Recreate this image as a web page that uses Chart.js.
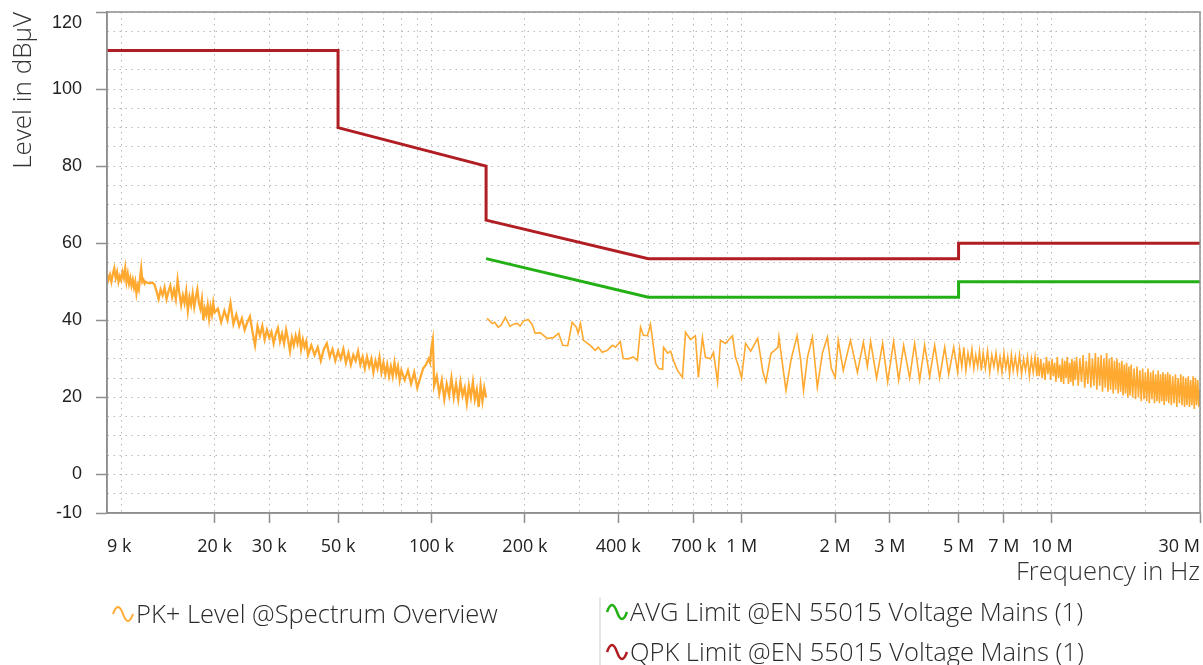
<!DOCTYPE html>
<html>
<head>
<meta charset="utf-8">
<title>EN 55015 Voltage Mains</title>
<script src="https://cdn.jsdelivr.net/npm/chart.js@4.4.0/dist/chart.umd.min.js"></script>
<style>
    html, body { margin: 0; padding: 0; background: #fff; }
    #wrap { position: relative; width: 1203px; height: 665px; overflow: hidden; }
    #emcChart { position: absolute; left: 0; top: 0; }
    .legend-item {
        position: absolute;
        display: flex;
        align-items: center;
        height: 30px;
        font-family: "Open Sans", "Noto Sans", sans-serif;
        font-weight: 300;
        font-size: 25.5px;
        color: #2b2b2b;
        white-space: nowrap;
    }
    .legend-item svg { margin-right: 1px; }
    .legend-sep { position: absolute; left: 599px; top: 597px; width: 2px; height: 68px; background: #e6e6e6; }
</style>
</head>
<body>
<div id="wrap">
    <canvas id="emcChart" width="1203" height="665"></canvas>
    <div class="legend-item" style="left:111px; top:598px;">
        <svg width="24" height="22" viewBox="0 0 24 22"><path d="M2 12 Q7 -2 12 12 T22 12" fill="none" stroke="#ffa930" stroke-width="2"/></svg>PK+ Level @Spectrum Overview
    </div>
    <div class="legend-sep"></div>
    <div class="legend-item" style="left:605px; top:596px;">
        <svg width="24" height="22" viewBox="0 0 24 22"><path d="M2 12 Q7 -2 12 12 T22 12" fill="none" stroke="#22b014" stroke-width="2.5"/></svg>AVG Limit @EN 55015 Voltage Mains (1)
    </div>
    <div class="legend-item" style="left:605px; top:636px;">
        <svg width="24" height="22" viewBox="0 0 24 22"><path d="M2 12 Q7 -2 12 12 T22 12" fill="none" stroke="#b01e23" stroke-width="2.5"/></svg>QPK Limit @EN 55015 Voltage Mains (1)
    </div>
</div>
<script>
// PK+ trace, band A (9 kHz - 150 kHz), frequencies in kHz
const pkFreqBandA = [
    9.0, 9.1, 9.2, 9.3, 9.4, 9.5, 9.6, 9.7, 9.8, 9.9, 10.0, 10.1, 10.2, 10.3, 10.4, 10.5, 10.6, 10.7, 10.8, 10.9, 11.0, 11.1, 11.2, 11.3, 11.4, 11.5, 11.6, 11.7, 11.8, 11.9, 12.0,
    12.2, 12.4, 12.6, 12.8, 13.0, 13.2, 13.4, 13.6, 13.8, 14.0, 14.2, 14.4, 14.6, 14.8, 15.0, 15.2, 15.4, 15.6, 15.8, 16.0,
    16.2, 16.4, 16.6, 16.8, 17.0, 17.2, 17.4, 17.6, 17.8, 18.0, 18.2, 18.4, 18.6, 18.8, 19.0, 19.2, 19.4, 19.6, 19.8, 20.0,
    20.5, 21, 21.5, 22, 22.5, 23, 23.5, 24, 24.5, 25, 25.5, 26, 26.5, 27, 27.5, 28, 28.5, 29, 29.5, 30,
    30.5, 31, 31.5, 32, 32.5, 33, 33.5, 34, 34.5, 35, 35.5, 36, 36.5, 37, 37.5, 38, 38.5, 39, 39.5, 40,
    41, 42, 43, 44, 45, 46, 47, 48, 49, 50, 51, 52, 53, 54, 55, 56, 57, 58, 59, 60,
    61, 62, 63, 64, 65, 66, 67, 68, 69, 70, 71, 72, 73, 74, 75, 76, 77, 78, 79, 80,
    82, 84, 86, 88, 90, 92, 94, 96, 98, 99, 100, 101, 101.5, 102,
    104, 106, 108, 110, 112, 114, 116, 118, 120, 122, 124, 126, 128, 130, 132, 134, 136, 138, 140, 142, 144, 146, 148, 150
];
const pkLevelBandA = [
    52, 50.5, 51.8, 50, 52, 53.5, 51, 52.5, 50, 51.5, 50.5, 52.5, 51, 53.5, 50, 52, 49.5, 51, 49, 50.5, 48.5, 50, 47, 49, 48, 51, 53.5, 50, 50.5, 49.5, 50,
    49.7, 49.6, 49.8, 49.3, 47.5, 45.5, 48, 46.5, 48.5, 45.5, 47.5, 49, 46, 48, 45.5, 50.5, 47, 44, 46.5, 44.5,
    47.5, 42.5, 46, 44, 47, 43.5, 46, 48, 44.5, 43, 45.5, 40, 43, 41.5, 44, 40.5, 43.5, 41.5, 44.5, 42,
    43, 39.5, 42.5, 40, 44.5, 39, 41.5, 38.5, 40.5, 37.5, 39.5, 41, 37, 33.5, 38.5, 36, 38.5, 35, 37.5, 35.5,
    37, 34, 36.5, 38, 34.5, 36.5, 34, 37.5, 35, 32, 35.5, 33.5, 36, 34, 36.5, 32.5, 35, 33, 34.5, 31,
    33.5, 31, 33, 29.5, 32.5, 34, 30.5, 32.5, 29.5, 32, 30, 32.5, 29, 31.5, 28.5, 31, 29.5, 32, 28.5, 30.5,
    27.5, 30.5, 28, 30, 26.5, 29.5, 27.5, 30.5, 26.5, 29, 26, 28.5, 25.5, 28, 25.5, 29, 26, 28, 24.5, 27,
    24.5, 27, 23.5, 26.5, 22.5, 25, 27.5, 28.5, 30, 29, 33, 35, 30, 23,
    25.5, 21, 24.5, 19.5, 23.5, 20.5, 25, 20, 23.5, 19.5, 24, 20.5, 22.5, 18.5, 23, 20, 24, 19.5, 22, 17.5, 23, 19, 22.5, 20
];

// PK+ trace, band B (150 kHz - 30 MHz), frequencies in kHz
const pkFreqBandB = [
    151, 157, 160, 164, 168, 173, 179, 184, 189, 193, 198, 205, 211, 216, 224, 236, 247, 257, 265, 275,
    284, 293, 297, 302, 309, 325, 337, 345, 355, 369, 383, 392, 406, 415, 431, 447, 461, 472, 482, 497,
    508, 516, 528, 540, 556, 560, 577, 590, 603, 621, 644, 659, 684, 709, 725, 747, 764, 793, 811, 836,
    854, 886, 934, 955, 977, 999,
    1029, 1069, 1126, 1171, 1197, 1243, 1309, 1318, 1389, 1442, 1508, 1548, 1582, 1630, 1690, 1753, 1820, 1888, 1945, 2002,
    2047, 2125, 2241, 2360, 2467, 2541,
    2603, 2722, 2846, 2954, 3088, 3205, 3326, 3478, 3609, 3746, 3887, 4034, 4187, 4345, 4511, 4647, 4823, 4968,
    5040, 5120, 5200, 5280, 5360, 5440, 5520, 5600, 5680, 5760, 5840, 5920,
    6000, 6100, 6200, 6300, 6400, 6500, 6600, 6700, 6800, 6900, 7000, 7100, 7200, 7300, 7400, 7500,
    7620, 7740, 7860, 7980, 8100, 8220, 8340, 8460, 8580, 8700, 8820, 8940,
    9000, 9100, 9200, 9300, 9400, 9500, 9600, 9700, 9800, 9900, 10000, 10100, 10200, 10300, 10400, 10500,
    10600, 10700, 10800, 10900, 11000, 11100, 11200, 11300, 11400, 11500, 11600, 11700, 11800, 11900, 12000,
    12150, 12300, 12450, 12600, 12750, 12900, 13050, 13200, 13350, 13500, 13650, 13800, 13950, 14100, 14250, 14400, 14550, 14700, 14850, 15000,
    15150, 15300, 15450, 15600, 15750, 15900, 16050, 16200, 16350, 16500, 16650, 16800, 16950, 17100, 17250, 17400, 17550, 17700, 17850,
    18000, 18200, 18400, 18600, 18800, 19000, 19200, 19400, 19600, 19800, 20000, 20200, 20400, 20600, 20800,
    21000, 21200, 21400, 21600, 21800, 22000, 22200, 22400, 22600, 22800, 23000, 23200, 23400, 23600, 23800,
    24000, 24250, 24500, 24750, 25000, 25250, 25500, 25750, 26000, 26250, 26500, 26750, 27000,
    27250, 27500, 27750, 28000, 28250, 28500, 28750, 29000, 29250, 29500, 29750, 30000
];
const pkLevelBandB = [
    40.5, 39.2, 39.5, 38.2, 38.8, 40.8, 38.4, 39, 39.2, 38.5, 39.8, 40.2, 39, 36.6, 36.8, 35.3, 35.5, 36.6, 33.5, 33.4,
    39.5, 38.2, 36.6, 39.2, 34.8, 33.5, 32.2, 33, 31.7, 32.2, 33.5, 33, 34.5, 30.1, 30, 30.5, 29.6, 38.2, 36.1, 36,
    39, 35, 28.8, 27.5, 27.3, 33, 31.5, 32, 29.5, 27, 25.2, 36.9, 35, 36, 25.2, 35.5, 30.4, 30, 31.7, 24,
    34.8, 34, 36, 30.4, 28, 25,
    34, 32, 35.3, 26.5, 24, 31.4, 33, 35.6, 21.8, 29.8, 36, 29.8, 21.8, 30.5, 35.6, 22.6, 31.5, 35.6, 27.5, 25.2,
    34.8, 27, 34.8, 26.5, 34.3, 28,
    34.5, 25, 34, 24, 34.5, 24.5, 33.5, 25, 34, 24.5, 33.5, 25.5, 33.5, 25, 33, 26, 33, 26.5,
    32.5, 28, 33, 27, 31.5, 28.5, 32.5, 27.5, 31, 28, 32, 27,
    31.5, 27.5, 32, 26.5, 31, 28, 31.5, 27, 30.5, 26.5, 31.5, 27.5, 30.5, 26, 31, 27,
    30.5, 26.5, 31, 26, 30, 27, 30.5, 25.5, 30, 26.5, 30.5, 25.5,
    30.5, 25.5, 30, 25, 29, 24.5, 30.5, 26, 29.5, 24.5, 30, 25.5, 29, 24, 30.5, 25,
    28.5, 24, 30, 23.5, 29.5, 25, 30.5, 23.5, 29, 24, 30, 23, 29.5, 24.5, 30.5,
    23, 30, 24, 31, 22.5, 29.5, 23.5, 31.5, 22.5, 30, 23, 31.5, 22, 30.5, 23, 31, 21.5, 30, 22.5, 31.5,
    21.5, 30, 22, 30.5, 21, 29.5, 22, 30, 21, 29, 21.5, 29.5, 20.5, 28.5, 21, 29, 20, 28, 20.5,
    28.5, 20, 27.5, 19.5, 28, 20, 27, 19, 27.5, 19.5, 26.5, 19, 27.5, 18.5, 26.5,
    19.5, 27, 18.5, 26, 19, 27, 18.5, 26, 19, 26.5, 18, 26, 19, 26.5, 18.5,
    26, 18, 25.5, 18.5, 26, 17.5, 25, 18.5, 26, 18, 25.5, 17.5, 25,
    18, 25.5, 17.5, 24.5, 18, 25.5, 17, 25, 18, 24.5, 17.5, 22
];

// EN 55015 limit lines, frequencies in kHz
const qpkFreqKHz = [9, 50, 50, 150, 150, 500, 5000, 5000, 30000];
const qpkLevel = [110, 110, 90, 80, 66, 56, 56, 60, 60];
const avgFreqKHz = [150, 500, 5000, 5000, 30000];
const avgLevel = [56, 46, 46, 50, 50];

// axes
const xGridFreqs = [
    9000, 10000, 20000, 30000, 40000, 50000, 60000, 70000, 80000, 90000,
    100000, 200000, 300000, 400000, 500000, 600000, 700000, 800000, 900000,
    1000000, 2000000, 3000000, 4000000, 5000000, 6000000, 7000000, 8000000, 9000000,
    10000000, 20000000, 30000000
];
const xLabelFreqs = [9000, 20000, 30000, 50000, 100000, 200000, 400000, 700000, 1000000, 2000000, 3000000, 5000000, 7000000, 10000000, 30000000];
const xLabelText = ["9 k", "20 k", "30 k", "50 k", "100 k", "200 k", "400 k", "700 k", "1 M", "2 M", "3 M", "5 M", "7 M", "10 M", "30 M"];
const yGridValues = [-10, -5, 0, 5, 10, 15, 20, 25, 30, 35, 40, 45, 50, 55, 60, 65, 70, 75, 80, 85, 90, 95, 100, 105, 110, 115, 120];
const yLabelValues = [-10, 0, 20, 40, 60, 80, 100, 120];

function toPoints(freqsKHz, levels) {
    return freqsKHz.map(function (f, i) {
        return { x: f * 1000, y: levels[i] };
    });
}

// two measurement bands, split by a null point so the line breaks at 150 kHz
const pkPoints = toPoints(pkFreqBandA, pkLevelBandA)
    .concat([{ x: 150300, y: null }])
    .concat(toPoints(pkFreqBandB, pkLevelBandB));

const plotFrame = {
    id: "plotFrame",
    afterDraw: function (chart) {
        const ctx = chart.ctx;
        const a = chart.chartArea;
        ctx.save();
        ctx.strokeStyle = "#8f8f8f";
        ctx.lineWidth = 1.5;
        ctx.strokeRect(a.left, a.top, a.right - a.left, a.bottom - a.top);
        ctx.restore();
    }
};

new Chart(document.getElementById("emcChart"), {
    type: "line",
    data: {
        datasets: [
            {
                label: "PK+ Level @Spectrum Overview",
                data: pkPoints,
                borderColor: "#ffa930",
                borderWidth: 1.6,
                pointRadius: 0,
                tension: 0,
                spanGaps: false,
                segment: {
                    // the dense low band trace reads as a thicker stroke
                    borderWidth: function (ctx) {
                        return ctx.p0.parsed.x < 150000 ? 2.3 : 1.6;
                    }
                }
            },
            {
                label: "AVG Limit @EN 55015 Voltage Mains (1)",
                data: toPoints(avgFreqKHz, avgLevel),
                borderColor: "#22b014",
                borderWidth: 3,
                pointRadius: 0,
                tension: 0
            },
            {
                label: "QPK Limit @EN 55015 Voltage Mains (1)",
                data: toPoints(qpkFreqKHz, qpkLevel),
                borderColor: "#b01e23",
                borderWidth: 3,
                pointRadius: 0,
                tension: 0
            }
        ]
    },
    options: {
        responsive: false,
        animation: false,
        devicePixelRatio: 1,
        layout: { padding: { left: 0, top: 12, right: 3, bottom: 76 } },
        plugins: {
            legend: { display: false },
            tooltip: { enabled: false }
        },
        scales: {
            x: {
                type: "logarithmic",
                min: 9000,
                max: 30000000,
                afterBuildTicks: function (scale) {
                    scale.ticks = xGridFreqs.map(function (v) { return { value: v }; });
                },
                afterFit: function (scale) {
                    scale.height = 76;
                    scale.paddingLeft = 0;
                    scale.paddingRight = 0;
                },
                border: { color: "#8f8f8f", width: 1.5, dash: [1.5, 4.5] },
                grid: {
                    color: "#b8b8b8",
                    lineWidth: 1,
                    tickLength: 10,
                    tickWidth: 1.5,
                    tickColor: function (ctx) {
                        return ctx.tick && xLabelFreqs.indexOf(ctx.tick.value) > 0 ? "#8f8f8f" : "rgba(0,0,0,0)";
                    }
                },
                ticks: {
                    autoSkip: false,
                    maxRotation: 0,
                    align: "inner",
                    padding: 13,
                    color: "#222",
                    font: { family: "'Open Sans', 'Noto Sans', sans-serif", size: 18 },
                    callback: function (value) {
                        const i = xLabelFreqs.indexOf(value);
                        return i >= 0 ? xLabelText[i] : "";
                    }
                },
                title: {
                    display: true,
                    text: "Frequency in Hz",
                    align: "end",
                    color: "#333",
                    font: { family: "'Open Sans', 'Noto Sans', sans-serif", size: 25.5, weight: 300 },
                    padding: { top: 2, bottom: 1 }
                }
            },
            y: {
                type: "linear",
                min: -10,
                max: 120,
                afterBuildTicks: function (scale) {
                    scale.ticks = yGridValues.map(function (v) { return { value: v }; });
                },
                afterFit: function (scale) {
                    scale.width = 107;
                    scale.paddingTop = 0;
                    scale.paddingBottom = 0;
                },
                border: { color: "#8f8f8f", width: 1.5, dash: [1.5, 4.5] },
                grid: {
                    color: "#b8b8b8",
                    lineWidth: 1,
                    tickLength: 11,
                    tickWidth: 1.5,
                    tickColor: function (ctx) {
                        return ctx.tick && yLabelValues.indexOf(ctx.tick.value) >= 0 ? "#8f8f8f" : "rgba(0,0,0,0)";
                    }
                },
                ticks: {
                    autoSkip: false,
                    padding: 14,
                    color: "#222",
                    font: { family: "'Liberation Sans', Arial, sans-serif", size: 18 },
                    callback: function (value) {
                        if (yLabelValues.indexOf(value) < 0) return "";
                        // top label sits below the frame corner
                        return value === 120 ? ["", "120"] : String(value);
                    }
                },
                title: {
                    display: true,
                    text: "Level in dBµV",
                    align: "end",
                    color: "#333",
                    font: { family: "'Open Sans', 'Noto Sans', sans-serif", size: 26, weight: 300 },
                    padding: { top: 8, bottom: 0 }
                }
            }
        }
    },
    plugins: [plotFrame]
});
</script>
</body>
</html>
